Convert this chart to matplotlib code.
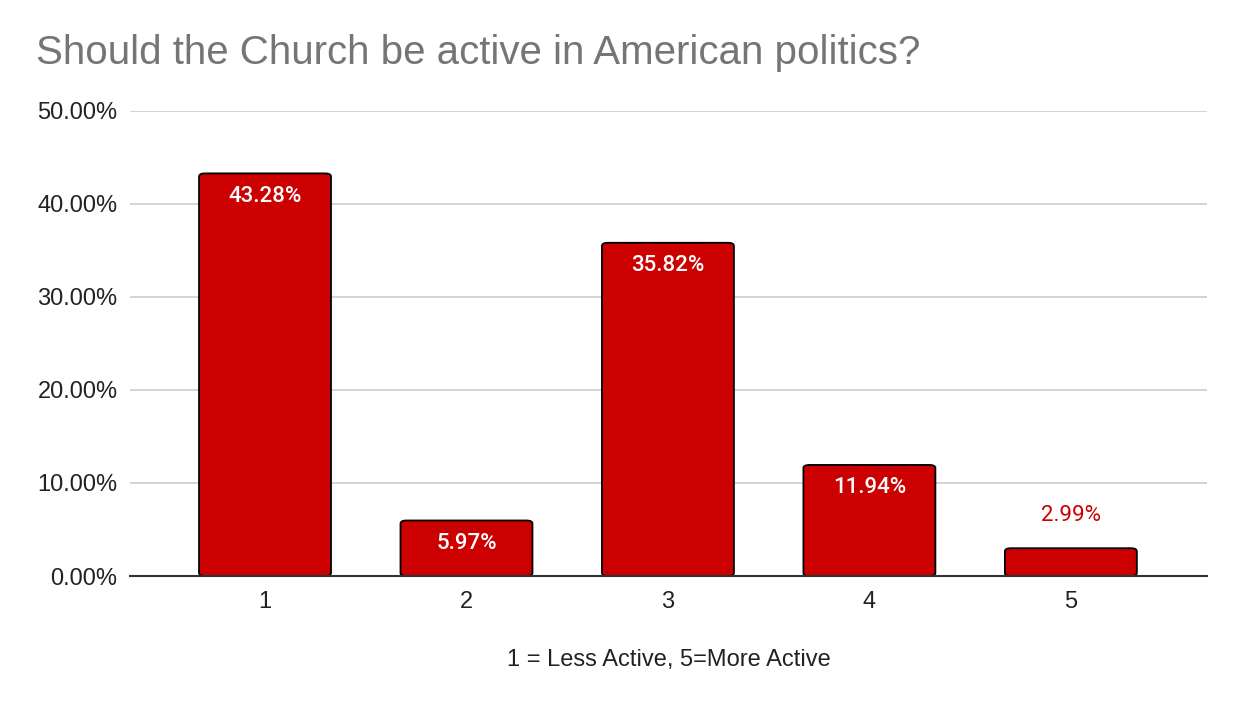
import matplotlib
matplotlib.use("Agg")
import matplotlib.pyplot as plt
from matplotlib.patches import FancyBboxPatch

plt.rcParams["font.family"] = ["Liberation Sans", "DejaVu Sans"]

RED = "#CC0000"
GREY = "#757575"

categories = ["1", "2", "3", "4", "5"]
values = [43.28, 5.97, 35.82, 11.94, 2.99]
labels = ["43.28%", "5.97%", "35.82%", "11.94%", "2.99%"]

fig = plt.figure(figsize=(12.42, 7.08), dpi=100)
ax = fig.add_axes([0.1047, 0.1864, 0.867, 0.657])

x = list(range(len(categories)))
width = 0.655
bars = ax.bar(x, values, width=width, color=RED, edgecolor="black", linewidth=1.3, zorder=3)

# swap plain bars for ones with slightly rounded corners
for b in bars:
    bx, by = b.get_x(), b.get_y()
    bw, bh = b.get_width(), b.get_height()
    b.set_visible(False)
    patch = FancyBboxPatch((bx, by), bw, bh,
                           boxstyle="round,pad=0,rounding_size=0.03",
                           mutation_aspect=11.0,
                           facecolor=RED, edgecolor="black", linewidth=1.3, zorder=3)
    ax.add_patch(patch)

for xi, v, lab in zip(x, values, labels):
    if v > 5:
        ax.text(xi, v - 2.45, lab, ha="center", va="center", color="white",
                fontsize=16, family=["Roboto", "DejaVu Sans"], fontweight="medium", zorder=4)
    else:
        ax.text(xi, v + 3.5, lab, ha="center", va="center", color=RED,
                fontsize=16, family=["Roboto", "DejaVu Sans"], zorder=4)

ax.set_xlim(-0.67, 4.675)
ax.set_ylim(0, 50)
ax.set_yticks([0, 10, 20, 30, 40, 50])
ax.set_yticklabels(["0.00%", "10.00%", "20.00%", "30.00%", "40.00%", "50.00%"])
ax.set_xticks(x)
ax.set_xticklabels(categories)
ax.tick_params(axis="both", length=0, labelsize=17, colors="#222222")
ax.tick_params(axis="x", pad=11)
ax.tick_params(axis="y", pad=9)

ax.grid(axis="y", color="#CCCCCC", linewidth=1.2, zorder=0)
ax.set_axisbelow(True)
for side in ["top", "right", "left"]:
    ax.spines[side].set_visible(False)
ax.spines["bottom"].set_color("#333333")
ax.spines["bottom"].set_linewidth(1.5)
ax.spines["bottom"].set_zorder(5)

ax.set_xlabel("1 = Less Active, 5=More Active", fontsize=17, color="#222222", labelpad=26)

fig.text(0.029, 0.925, "Should the Church be active in American politics?",
         fontsize=29, color=GREY, ha="left", va="center")

fig.savefig("out.png", dpi=100)
